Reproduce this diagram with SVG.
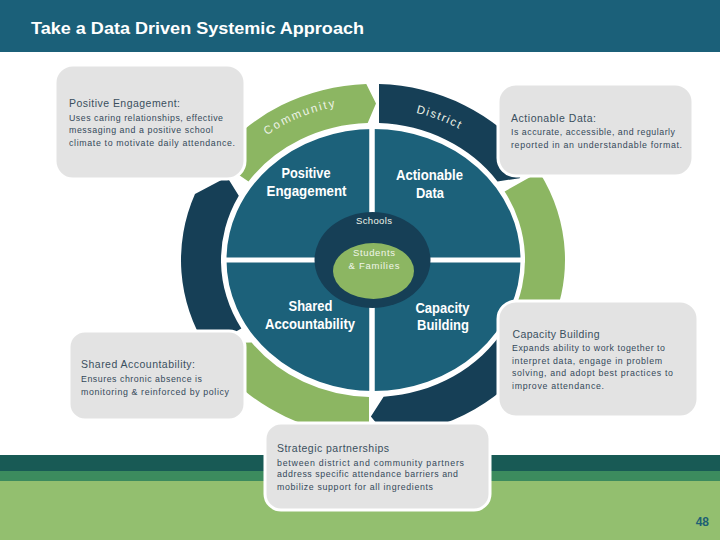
<svg xmlns="http://www.w3.org/2000/svg" width="720" height="540" viewBox="0 0 720 540">
<style>
.hdr{fill:#1b6079}
.green{fill:#8cb662}
.navy{fill:#163f56}
.box{fill:#e3e3e3;stroke:#ffffff;stroke-width:3}
.bh{font-family:"Liberation Sans",Arial,sans-serif;font-size:10.5px;fill:#3a4f5e}
.bt{font-family:"Liberation Sans",Arial,sans-serif;font-size:8.8px;fill:#34495a}
.ql{font-family:"Liberation Sans",Arial,sans-serif;font-size:14.5px;font-weight:bold;fill:#ffffff;text-anchor:middle}
.ring{font-family:"Liberation Sans",Arial,sans-serif;font-size:11.5px;fill:#eef3e8}
.ctr{font-family:"Liberation Sans",Arial,sans-serif;font-size:9.5px;fill:#f0f5ea;text-anchor:middle}
</style>
<defs>
<path id="pCommunity" d="M267,135.2 A175,157 0 0 1 460.5,124"/>
<path id="pDistrict" d="M416,112.9 A170,152 0 0 1 520.2,184"/>
</defs>

<g id="footer">
<rect x="0" y="455" width="720" height="16" fill="#185a55"/>
<rect x="0" y="471" width="720" height="10" fill="#3c8b5e"/>
<rect x="0" y="481" width="720" height="59" fill="#93bf6f"/>
<text x="709" y="526" text-anchor="end" font-family="Liberation Sans,Arial,sans-serif" font-size="12" font-weight="bold" fill="#1e5f74">48</text>
</g>

<g id="header">
<rect x="0" y="0" width="720" height="52" class="hdr"/>
<text x="31" y="34" font-family="Liberation Sans,Arial,sans-serif" font-size="17" font-weight="bold" fill="#ffffff" textLength="333" lengthAdjust="spacingAndGlyphs">Take a Data Driven Systemic Approach</text>
</g>

<g id="seg-community">
<path class="green" d="M215.72,159.05 A192,176 0 0 1 366.30,84.11 L376.00,103.52 L367.70,123.08 A152,137 0 0 0 248.49,181.42 Z"/>
<text class="ring" letter-spacing="2"><textPath href="#pCommunity">Community</textPath></text>
</g>
<g id="seg-district">
<path class="navy" d="M379,84.09 A192,176 0 0 1 530.28,159.05 L519.65,178.23 L497.51,181.42 A152,137 0 0 0 379,123.11 Z"/>
<text class="ring" letter-spacing="1.5"><textPath href="#pDistrict">District</textPath></text>
</g>
<g id="seg-right">
<path class="green" d="M539.28,172 A192,176 0 0 1 547.01,334.38 L524.87,333.47 L510.76,317.90 A152,137 0 0 0 504.64,191.5 Z"/>
</g>
<g id="seg-bottom-right">
<path class="navy" d="M539.28,348 A192,176 0 0 1 386.39,435.57 L370.90,416.49 L383.60,396.67 A152,137 0 0 0 504.64,328.5 Z"/>
</g>
<g id="seg-bottom-left">
<path class="green" d="M369,435.96 A192,176 0 0 1 219.66,365.92 L227.14,342.93 L251.61,342.45 A152,137 0 0 0 369,396.97 Z"/>
</g>
<g id="seg-left">
<path class="navy" d="M206.72,348 A192,176 0 0 1 194.98,194.07 L227.14,177.07 L238.79,195.68 A152,137 0 0 0 241.36,328.5 Z"/>
</g>

<g id="circle">
<ellipse cx="373.5" cy="260" rx="148" ry="132" fill="#1c617a" stroke="#ffffff" stroke-width="2"/>
<line x1="372" y1="124" x2="372" y2="396" stroke="#ffffff" stroke-width="5.5"/>
<line x1="222" y1="260" x2="525" y2="260" stroke="#ffffff" stroke-width="5"/>
</g>

<g id="q-positive">
<text class="ql" x="306" y="178" textLength="49" lengthAdjust="spacingAndGlyphs">Positive</text>
<text class="ql" x="306.5" y="195.5" textLength="80" lengthAdjust="spacingAndGlyphs">Engagement</text>
</g>
<g id="q-actionable">
<text class="ql" x="429.5" y="180" textLength="67" lengthAdjust="spacingAndGlyphs">Actionable</text>
<text class="ql" x="430" y="197.5" textLength="28" lengthAdjust="spacingAndGlyphs">Data</text>
</g>
<g id="q-shared">
<text class="ql" x="310.5" y="310.5" textLength="44" lengthAdjust="spacingAndGlyphs">Shared</text>
<text class="ql" x="310" y="328.5" textLength="90" lengthAdjust="spacingAndGlyphs">Accountability</text>
</g>
<g id="q-capacity">
<text class="ql" x="442.5" y="312.5" textLength="54" lengthAdjust="spacingAndGlyphs">Capacity</text>
<text class="ql" x="443" y="330" textLength="52" lengthAdjust="spacingAndGlyphs">Building</text>
</g>

<g id="schools">
<ellipse cx="372.5" cy="260" rx="58" ry="48" fill="#163f56"/>
<text class="ctr" x="374" y="223.5" textLength="36" lengthAdjust="spacing">Schools</text>
</g>
<g id="students">
<ellipse cx="373.5" cy="271" rx="40.5" ry="28" fill="#8cb662"/>
<text class="ctr" x="374" y="255.5" textLength="42" lengthAdjust="spacing">Students</text>
<text class="ctr" x="374" y="268.5" textLength="51" lengthAdjust="spacing">&amp; Families</text>
</g>

<g id="box-positive">
<rect class="box" x="55" y="65" width="190" height="114" rx="18"/>
<text class="bh" x="69" y="107" textLength="111" lengthAdjust="spacing">Positive Engagement:</text>
<text class="bt" x="69" y="120.5" textLength="154" lengthAdjust="spacing">Uses caring relationships, effective</text>
<text class="bt" x="69" y="133" textLength="144" lengthAdjust="spacing">messaging and a positive school</text>
<text class="bt" x="69" y="145.5" textLength="166" lengthAdjust="spacing">climate to motivate daily attendance.</text>
</g>

<g id="box-actionable">
<rect class="box" x="498" y="84" width="195" height="92" rx="18"/>
<text class="bh" x="511" y="121.5" textLength="85" lengthAdjust="spacing">Actionable Data:</text>
<text class="bt" x="511" y="134.5" textLength="164" lengthAdjust="spacing">Is accurate, accessible, and regularly</text>
<text class="bt" x="511" y="147.5" textLength="171" lengthAdjust="spacing">reported in an understandable format.</text>
</g>

<g id="box-shared">
<rect class="box" x="69" y="331" width="176" height="89" rx="16"/>
<text class="bh" x="81" y="368" textLength="114" lengthAdjust="spacing">Shared Accountability:</text>
<text class="bt" x="81" y="382" textLength="121" lengthAdjust="spacing">Ensures chronic absence is</text>
<text class="bt" x="81" y="395" textLength="148" lengthAdjust="spacing">monitoring &amp; reinforced by policy</text>
</g>

<g id="box-capacity">
<rect class="box" x="498" y="301" width="200" height="116" rx="18"/>
<text class="bh" x="512.5" y="337.5" textLength="87" lengthAdjust="spacing">Capacity Building</text>
<text class="bt" x="512" y="351" textLength="153" lengthAdjust="spacing">Expands ability to work together to</text>
<text class="bt" x="512" y="363.5" textLength="150" lengthAdjust="spacing">interpret data, engage in problem</text>
<text class="bt" x="512" y="376" textLength="161" lengthAdjust="spacing">solving, and adopt  best practices to</text>
<text class="bt" x="512" y="389" textLength="92" lengthAdjust="spacing">improve attendance.</text>
</g>

<g id="box-strategic">
<rect class="box" x="265" y="423" width="225" height="87" rx="16"/>
<text class="bh" x="277" y="452" textLength="112" lengthAdjust="spacing">Strategic partnerships</text>
<text class="bt" x="277" y="465.5" textLength="187" lengthAdjust="spacing">between district and community  partners</text>
<text class="bt" x="277" y="477" textLength="181" lengthAdjust="spacing">address specific attendance barriers and</text>
<text class="bt" x="277" y="490" textLength="156" lengthAdjust="spacing">mobilize support for all ingredients</text>
</g>
</svg>
